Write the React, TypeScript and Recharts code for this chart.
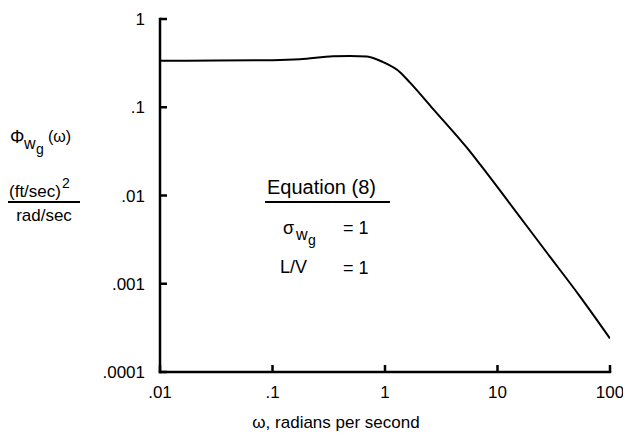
import React from "react";
import { LineChart, Line, XAxis, YAxis } from "recharts";

const omega = [0.01, 0.0315, 0.1, 0.175, 0.345, 0.49, 0.69, 0.96, 1.36, 1.67, 2.67, 5.32, 7.0, 13.8, 27.4, 54, 100];
const phi = [0.336, 0.338, 0.341, 0.349, 0.378, 0.382, 0.376, 0.325, 0.25, 0.19, 0.096, 0.035, 0.0225, 0.0072, 0.00226, 0.00072, 0.00024];

const xTicks = [0.01, 0.1, 1, 10, 100];
const xTickLabels = [".01", ".1", "1", "10", "100"];
const yTicks = [0.0001, 0.001, 0.01, 0.1, 1];
const yTickLabels = [".0001", ".001", ".01", ".1", "1"];

const data = omega.map((w, i) => ({ omega: w, phi: phi[i] }));

const FONT = "'Liberation Sans', Arial, Helvetica, sans-serif";

const W = 615;
const H = 431;
const M = { top: 11, right: 13, bottom: 7, left: 0 };
const Y_AXIS_W = 152;
const X_AXIS_H = 60;
const PLOT_L = M.left + Y_AXIS_W;
const PLOT_R = W - M.right;
const PLOT_T = M.top;
const PLOT_B = H - M.bottom - X_AXIS_H;
const TICK_LEN = 7;
const AXIS_W = 2.5;

const xDom = [xTicks[0], xTicks[xTicks.length - 1]];
const yDom = [yTicks[0], yTicks[yTicks.length - 1]];
const logPos = (v: number, d: number[], a: number, b: number) =>
  a + ((Math.log10(v) - Math.log10(d[0])) / (Math.log10(d[1]) - Math.log10(d[0]))) * (b - a);

const fmt = (ticks: number[], labels: string[]) => (v: number) => {
  const i = ticks.findIndex((t) => Math.abs(Math.log10(t) - Math.log10(v)) < 1e-6);
  return i >= 0 ? labels[i] : String(v);
};

const h = AXIS_W / 2;

export default function App() {
  return (
    <div style={{ position: "relative", width: W, height: H, fontFamily: FONT }}>
      <LineChart width={W} height={H} data={data} margin={M}>
        <XAxis
          dataKey="omega"
          type="number"
          scale="log"
          domain={xDom}
          ticks={xTicks}
          tickFormatter={fmt(xTicks, xTickLabels)}
          allowDataOverflow
          height={X_AXIS_H}
          tickSize={0}
          tickMargin={14}
          axisLine={false}
          tickLine={false}
          tick={{ fill: "#000", fontSize: 17, fontFamily: FONT }}
        />
        <YAxis
          type="number"
          scale="log"
          domain={yDom}
          ticks={yTicks}
          tickFormatter={fmt(yTicks, yTickLabels)}
          allowDataOverflow
          width={Y_AXIS_W}
          tickSize={0}
          tickMargin={15}
          axisLine={false}
          tickLine={false}
          tick={{ fill: "#000", fontSize: 17, fontFamily: FONT }}
        />
        <Line
          dataKey="phi"
          type="monotone"
          stroke="#000"
          strokeWidth={2}
          dot={false}
          isAnimationActive={false}
        />
      </LineChart>
      <svg
        width={W}
        height={H}
        style={{ position: "absolute", left: 0, top: 0, pointerEvents: "none" }}
        fontFamily={FONT}
      >
        {/* axis frame (left and bottom) with inward ticks, drawn as filled bars */}
        <rect x={PLOT_L - h} y={PLOT_T - h} width={AXIS_W} height={PLOT_B - PLOT_T + AXIS_W} fill="#000" />
        <rect x={PLOT_L - h} y={PLOT_B - h} width={PLOT_R - PLOT_L + AXIS_W} height={AXIS_W} fill="#000" />
        {xTicks.map((t) => {
          const x = logPos(t, xDom, PLOT_L, PLOT_R);
          return <rect key={"xt" + t} x={x - h} y={PLOT_B - TICK_LEN} width={AXIS_W} height={TICK_LEN} fill="#000" />;
        })}
        {yTicks.map((t) => {
          const y = logPos(t, yDom, PLOT_B, PLOT_T);
          return <rect key={"yt" + t} x={PLOT_L} y={y - h} width={TICK_LEN} height={AXIS_W} fill="#000" />;
        })}

        {/* y-axis title */}
        <text x={2} y={135} fontSize={18} fill="#000">Φ</text>
        <text x={16} y={141} fontSize={16} fill="#000">w</text>
        <text x={28} y={146} fontSize={14} fill="#000">g</text>
        <text x={40} y={134} fontSize={16} fill="#000">(ω)</text>
        <text x={1} y={189} fontSize={17} fill="#000">
          (ft/sec)<tspan fontSize={14} dy={-9} dx={1}>2</tspan>
        </text>
        <line x1={-1} x2={72} y1={194} y2={194} stroke="#000" strokeWidth={2} />
        <text x={36} y={213} fontSize={17} textAnchor="middle" fill="#000">rad/sec</text>

        {/* annotation */}
        <text x={259} y={186} fontSize={20} fill="#000">Equation (8)</text>
        <line x1={257} x2={382} y1={194} y2={194} stroke="#000" strokeWidth={2} />
        <text x={275} y={226} fontSize={18} fill="#000">σ</text>
        <text x={288} y={232} fontSize={16} fill="#000">w</text>
        <text x={300} y={237} fontSize={14} fill="#000">g</text>
        <text x={335} y={226} fontSize={18} fill="#000">= 1</text>
        <text x={272} y={265} fontSize={18} fill="#000">L/V</text>
        <text x={335} y={266} fontSize={18} fill="#000">= 1</text>

        {/* x-axis title */}
        <text x={328} y={420} fontSize={17} textAnchor="middle" fill="#000">ω, radians per second</text>
      </svg>
    </div>
  );
}
